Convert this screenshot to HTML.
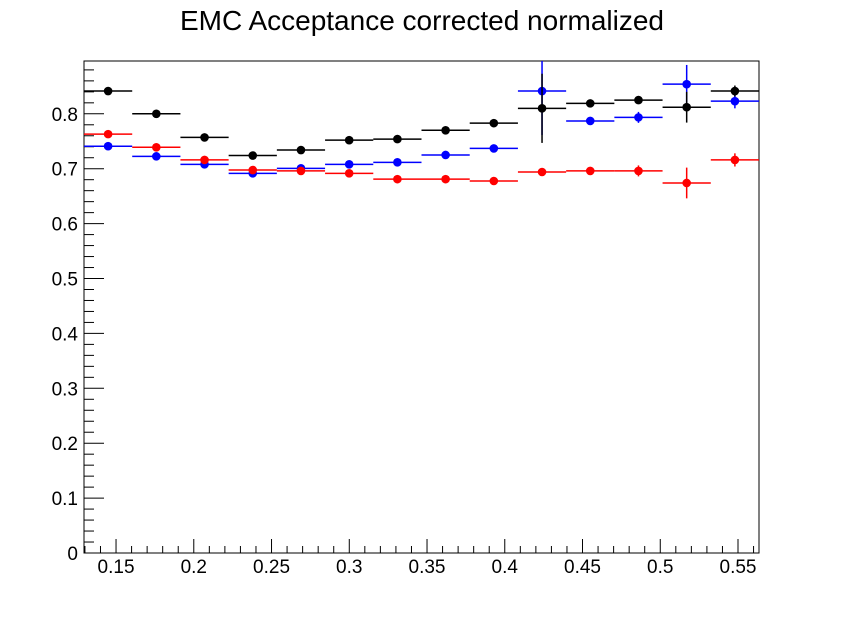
<!DOCTYPE html>
<html><head><meta charset="utf-8"><style>
body{margin:0;background:#fff;}
svg text{font-family:"Liberation Sans",sans-serif;}
</style></head><body>
<svg id="c" width="843" height="615" xmlns="http://www.w3.org/2000/svg">
<rect width="843" height="615" fill="#fff"/>
<text x="422" y="30" font-size="28" text-anchor="middle">EMC Acceptance corrected normalized</text>
<g id="axes"></g><g id="marks"></g>
</svg>
<script>
const xTicks=[0.15,0.2,0.25,0.3,0.35,0.4,0.45,0.5,0.55];
const xTickLabels=["0.15","0.2","0.25","0.3","0.35","0.4","0.45","0.5","0.55"];
const yTicks=[0,0.1,0.2,0.3,0.4,0.5,0.6,0.7,0.8];
const yTickLabels=["0","0.1","0.2","0.3","0.4","0.5","0.6","0.7","0.8"];
const binCount=14;
const blackVals=[0.8415,0.800,0.757,0.724,0.734,0.752,0.754,0.770,0.783,0.810,0.819,0.825,0.812,0.8415];
const blackErr=[0.005,0.005,0.005,0.005,0.005,0.005,0.005,0.005,0.005,0.063,0.006,0.006,0.028,0.01];
const blueVals=[0.741,0.7225,0.708,0.6916,0.7007,0.708,0.7116,0.725,0.737,0.8415,0.787,0.7935,0.854,0.823];
const blueErr=[0.005,0.005,0.005,0.005,0.005,0.005,0.005,0.005,0.005,0.08,0.006,0.01,0.035,0.013];
const redVals=[0.763,0.739,0.716,0.6976,0.696,0.6916,0.681,0.681,0.6776,0.694,0.696,0.696,0.674,0.716];
const redErr=[0.005,0.005,0.005,0.005,0.005,0.005,0.005,0.005,0.005,0.005,0.006,0.01,0.028,0.012];
const L=84,R=759,T=61,B=553,xmin=0.1294,xmax=0.5635,ymin=0,ymax=0.8962;
const X=v=>L+(v-xmin)/(xmax-xmin)*(R-L);
const Y=v=>B-(v-ymin)/(ymax-ymin)*(B-T);
const NS="http://www.w3.org/2000/svg";
function mk(p,t,a){const e=document.createElementNS(NS,t);for(const k in a)e.setAttribute(k,a[k]);p.appendChild(e);return e;}
const ax=document.getElementById('axes');
const fr=mk(ax,'rect',{x:L,y:T,width:R-L,height:B-T,fill:'none',stroke:'#000','stroke-width':1});


for(let v=0.13;v<=0.5635;v+=0.01){const x=X(v);const maj=xTicks.some(t=>Math.abs(t-v)<1e-6);
 const t=mk(ax,'line',{x1:x,x2:x,y1:B,y2:B-(maj?14:7),stroke:'#000'});
 }
xTicks.forEach((v,i)=>{const t=mk(ax,'text',{x:X(v),y:B+20,'font-size':19,'text-anchor':'middle'});t.textContent=xTickLabels[i];
 });
for(let v=0;v<=ymax;v+=0.02){const y=Y(v);const maj=Math.abs(v*10-Math.round(v*10))<1e-6;
 const t=mk(ax,'line',{x1:L,x2:L+(maj?20:10),y1:y,y2:y,stroke:'#000'});
 }
yTicks.forEach((v,i)=>{const t=mk(ax,'text',{x:L-6,y:Y(v)+7,'font-size':19,'text-anchor':'end'});t.textContent=yTickLabels[i];
 });
const mg=document.getElementById('marks');
const bw=(xmax-xmin)/binCount;
function series(vals,errs,col,name){
 const g=mk(mg,'g',{});
 
 
 vals.forEach((v,i)=>{const x0=X(xmin+i*bw),x1=X(xmin+(i+1)*bw),xc=X(xmin+(i+0.5)*bw);
  const y=Y(v),yt=Math.max(T,Y(v+errs[i])),yb=Math.min(B,Y(v-errs[i]));
  mk(g,'line',{x1:x0,x2:x1,y1:y,y2:y,stroke:col,'stroke-width':1.5});
  mk(g,'line',{x1:xc,x2:xc,y1:yt,y2:yb,stroke:col,'stroke-width':1.5});
  const c=mk(g,'circle',{cx:xc,cy:y,r:4.3,fill:col});
  
  });
}
series(blueVals,blueErr,'#0000ff','blue-series');
series(redVals,redErr,'#ff0000','red-series');
series(blackVals,blackErr,'#000000','black-series');
</script>
</body></html>
